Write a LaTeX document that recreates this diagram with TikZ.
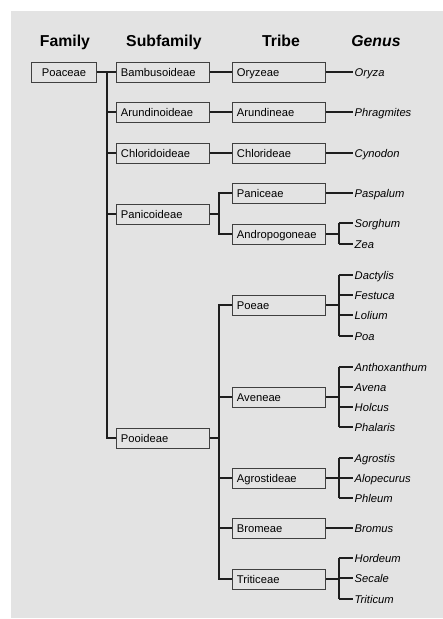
\documentclass[tikz,border=0pt]{standalone}
\usepackage{fontspec}
\setmainfont{Liberation Sans}
\usetikzlibrary{calc,positioning}
\definecolor{paper}{HTML}{E3E3E3}
\definecolor{ink}{HTML}{1E1E1E}
\tikzset{
  head/.style = {font=\fontsize{15.8}{18}\selectfont\bfseries, anchor = base},
  taxon/.style = {draw = ink!85, line width = .9pt, rectangle, anchor = west, text width = 84pt,
                  inner xsep = 4.5pt, inner ysep = 0pt, minimum height = 20pt, align = left,
                  text height = 8pt, text depth = 0pt, font=\fontsize{11.2}{13}\selectfont},
  fambox/.style = {taxon, anchor = center, text width = 56pt, align = center},
  genus/.style = {anchor = west, inner xsep = 1.5pt, inner ysep = 0pt, text height = 8pt,
                  text depth = 0pt, font=\fontsize{11.2}{13}\selectfont\itshape},
  link/.style = {draw = ink, line width = 1.5pt}
}

\begin{document}
\begin{tikzpicture}[x=1pt,y=-1pt]
  \useasboundingbox (0,0) rectangle (443,619);
  \fill[paper] (11,11) rectangle (443,618);
  % headings
  \node[head] (hfam) at (65,46) {Family};
  \node[head] (hsub) at (164,46) {Subfamily};
  \node[head] (htri) at (281,46) {Tribe};
  \node[head] (hgen) at (376,46) {\itshape Genus};

  % family and subfamilies
  \node[fambox] (fam) at (64,72) {Poaceae};
  \node[taxon] (bamb) at (116,72) {Bambusoideae};
  \node[taxon] (arun) at (116,112) {Arundinoideae};
  \node[taxon] (chlo) at (116,153) {Chloridoideae};
  \node[taxon] (pani) at (116,214) {Panicoideae};
  \node[taxon] (pooi) at (116,438) {Pooideae};
  \coordinate (fj) at (107,72);
  \draw[link] (fam) -- (bamb);
  \draw[link] (fj) |- (pooi.west);
  \foreach \s in {arun,chlo,pani}{
    \draw[link] (fj |- \s) -- (\s.west);
  }

  % tribes
  \node[taxon] (oryz) at (232,72) {Oryzeae};
  \node[taxon] (arnd) at (232,112) {Arundineae};
  \node[taxon] (chld) at (232,153) {Chlorideae};
  \node[taxon] (panc) at (232,193) {Paniceae};
  \node[taxon] (andr) at (232,234) {Andropogoneae};
  \node[taxon] (poea) at (232,305) {Poeae};
  \node[taxon] (aven) at (232,397) {Aveneae};
  \node[taxon] (agro) at (232,478) {Agrostideae};
  \node[taxon] (brom) at (232,528) {Bromeae};
  \node[taxon] (trit) at (232,579) {Triticeae};
  \draw[link] (bamb) -- (oryz);
  \draw[link] (arun) -- (arnd);
  \draw[link] (chlo) -- (chld);
  \coordinate (pj) at (219,214);
  \draw[link] (pani.east) -- (pj);
  \draw[link] (panc.west) -| (pj) |- (andr.west);
  \coordinate (qj) at (219,438);
  \draw[link] (pooi.east) -- (qj);
  \draw[link] (poea.west) -| (qj) |- (trit.west);
  \foreach \t in {aven,agro,brom}{
    \draw[link] (qj |- \t) -- (\t.west);
  }

  % genera, one per tribe
  \foreach \t/\m/\yi in {oryz/Oryza/72,arnd/Phragmites/112,chld/Cynodon/153,panc/Paspalum/193,brom/Bromus/528}{
    \node[genus] (\m) at (353,\yi) {\m};
    \draw[link] (\t) -- (\m);
  }

  % genera, several per tribe
  \foreach \t/\ms in {andr/{Sorghum/223,Zea/244},
                      poea/{Dactylis/275,Festuca/295,Lolium/315,Poa/336},
                      aven/{Anthoxanthum/367,Avena/387,Holcus/407,Phalaris/427},
                      agro/{Agrostis/458,Alopecurus/478,Phleum/498},
                      trit/{Hordeum/558,Secale/578,Triticum/599}}{
    \coordinate (\t-j) at ($(\t.east)+(13,0)$);
    \draw[link] (\t.east) -- (\t-j);
    \foreach \m/\yi in \ms{
      \node[genus] (\m) at (353,\yi) {\m};
      \draw[link] (\t-j |- \m) -- (\m.west);
    }
  }
  \draw[link] (andr-j |- Sorghum) -- (andr-j |- Zea);
  \draw[link] (poea-j |- Dactylis) -- (poea-j |- Poa);
  \draw[link] (aven-j |- Anthoxanthum) -- (aven-j |- Phalaris);
  \draw[link] (agro-j |- Agrostis) -- (agro-j |- Phleum);
  \draw[link] (trit-j |- Hordeum) -- (trit-j |- Triticum);
\end{tikzpicture}
\end{document}
